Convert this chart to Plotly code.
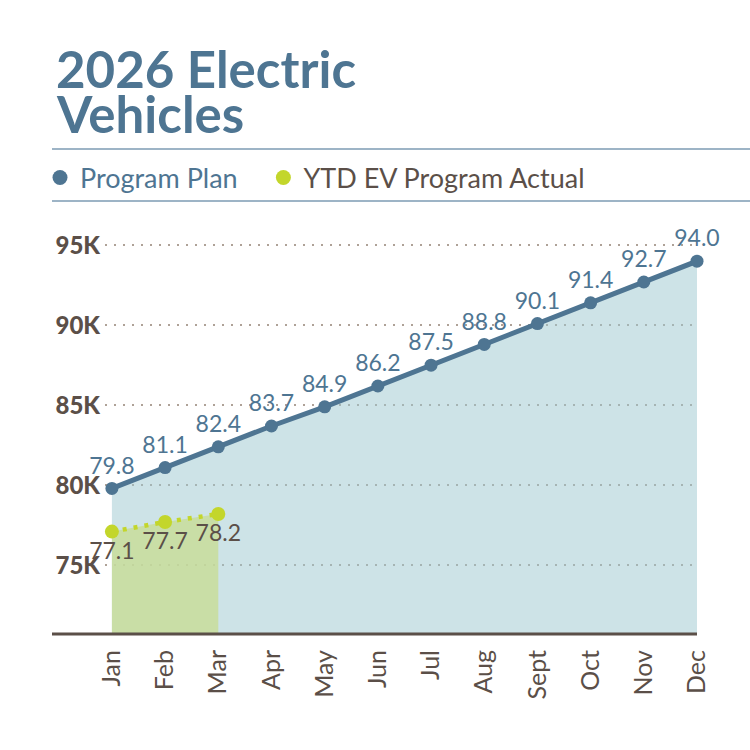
import plotly.graph_objects as go

# data (thousands of vehicles)
months = ["Jan", "Feb", "Mar", "Apr", "May", "Jun", "Jul", "Aug", "Sept", "Oct", "Nov", "Dec"]
plan_k = [79.8, 81.1, 82.4, 83.7, 84.9, 86.2, 87.5, 88.8, 90.1, 91.4, 92.7, 94.0]
actual_months = ["Jan", "Feb", "Mar"]
actual_k = [77.1, 77.7, 78.2]
y_ticks = [75, 80, 85, 90, 95]
y_ticktext = ["75K", "80K", "85K", "90K", "95K"]

BLUE = "#4e7592"
BROWN = "#5b4f48"
LIME = "#c3d62b"
FONT = "Lato"

W, H = 750, 750
L, R, T, B = 105, 53, 230, 116


def px_x(x):
    return (x - L) / (W - L - R)


def px_y(y):
    return (H - B - y) / (H - T - B)


fig = go.Figure()

fig.add_trace(go.Scatter(
    x=months, y=plan_k, mode="lines+markers+text",
    line=dict(color=BLUE, width=5), marker=dict(color=BLUE, size=13),
    fill="tozeroy", fillcolor="rgba(155,199,207,0.5)",
    text=[f"{v:.1f}" for v in plan_k], textposition="top center",
    textfont=dict(color=BLUE, size=23, family=FONT),
    cliponaxis=False, showlegend=False, hoverinfo="skip",
))
fig.add_trace(go.Scatter(
    x=actual_months, y=actual_k, mode="lines+markers+text",
    line=dict(color=LIME, width=4.5, dash="4px,7px"), marker=dict(color=LIME, size=14),
    fill="tozeroy", fillcolor="rgba(200,220,150,0.8)",
    text=[f"{v:.1f}" for v in actual_k], textposition="bottom center",
    textfont=dict(color=BROWN, size=23, family=FONT),
    cliponaxis=False, showlegend=False, hoverinfo="skip",
))

# legend-only entries (circle markers)
fig.add_trace(go.Scatter(x=[None], y=[None], mode="markers",
                         name="Program Plan\u00a0\u00a0\u00a0",
                         marker=dict(color=BLUE, size=15)))
fig.add_trace(go.Scatter(x=[None], y=[None], mode="markers",
                         name="<span style='color:%s'>YTD EV Program Actual</span>" % BROWN,
                         marker=dict(color=LIME, size=15)))

fig.update_layout(
    width=W, height=H,
    margin=dict(l=L, r=R, t=T, b=B),
    paper_bgcolor="white", plot_bgcolor="white",
    font=dict(family=FONT, color=BROWN),
    showlegend=True,
    legend=dict(orientation="h", x=px_x(40), y=px_y(178), xanchor="left", yanchor="middle",
                font=dict(size=27, color=BLUE, family=FONT), itemwidth=30,
                bgcolor="rgba(0,0,0,0)"),
    xaxis=dict(range=[-0.13, 11], showgrid=False, zeroline=False, showline=False,
               tickangle=-90, tickfont=dict(size=25, color=BROWN, family=FONT),
               ticks="", ticklabelstandoff=10),
    yaxis=dict(range=[70.7, 95.95], tickvals=y_ticks, ticktext=y_ticktext,
               tickfont=dict(size=24, color=BROWN, family=FONT + " Black"),
               showgrid=True, gridcolor="#aea197", gridwidth=1.5, griddash="2px,7px",
               zeroline=False, showline=False, ticks="", ticklabelstandoff=4),
)

# baseline and title rules
fig.add_shape(type="line", xref="paper", yref="paper", x0=px_x(52), x1=1, y0=0, y1=0,
              line=dict(color=BROWN, width=3))
for yy in (149, 201):
    fig.add_shape(type="line", xref="paper", yref="paper", x0=px_x(52), x1=px_x(750),
                  y0=px_y(yy), y1=px_y(yy), line=dict(color="#7c9bb3", width=1.5))

fig.add_annotation(text="<b>2026 Electric</b>", xref="paper", yref="paper",
                   x=px_x(54), y=px_y(68), xanchor="left", yanchor="middle", showarrow=False,
                   font=dict(size=51, color=BLUE, family=FONT))
fig.add_annotation(text="<b>Vehicles</b>", xref="paper", yref="paper",
                   x=px_x(54), y=px_y(114), xanchor="left", yanchor="middle", showarrow=False,
                   font=dict(size=51, color=BLUE, family=FONT))

fig.write_html("out.html", config={"displayModeBar": False},
               post_script="document.body.style.margin='0';")
